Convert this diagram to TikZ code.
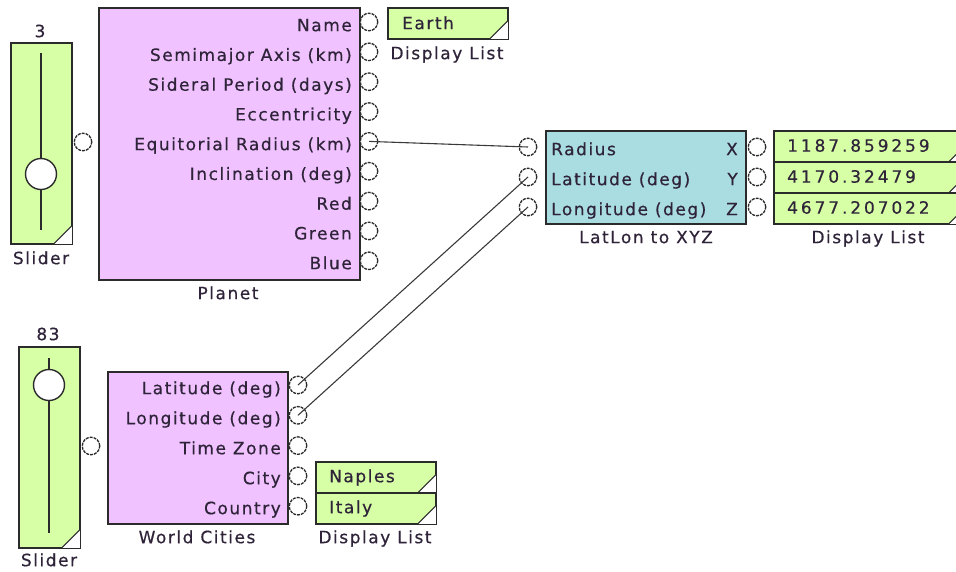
\documentclass[tikz,border=0pt]{standalone}
\usepackage{fontspec}
\setmainfont{DejaVu Sans}[LetterSpace=9,FakeBold=0.5]
\newfontfamily\numfont{DejaVu Sans}[LetterSpace=17,FakeBold=0.5]
\definecolor{lgreen}{HTML}{D7FFA6}
\definecolor{lpink}{HTML}{F0C2FF}
\definecolor{lcyan}{HTML}{A9DDE1}
\definecolor{boxline}{HTML}{2B2B2B}
\definecolor{txt}{HTML}{2E2338}
\definecolor{wirec}{HTML}{3A3A3A}
\tikzset{
  blk/.style={draw=boxline, line width=1.6pt, rectangle, inner sep=0pt, anchor=north west},
  greenbox/.style={blk, fill=lgreen},
  pinkbox/.style={blk, fill=lpink},
  cyanbox/.style={blk, fill=lcyan},
  port/.style={circle, draw=boxline, line width=1.3pt, dash pattern=on 3pt off 1pt, fill=white, minimum size=17.5pt, inner sep=0pt},
  knob/.style={circle, draw=boxline, line width=1.4pt, fill=white, minimum size=31pt, inner sep=0pt},
  track/.style={draw=boxline, line width=1.4pt},
  lbl/.style={font=\fontsize{17}{20}\selectfont, text=txt, inner sep=0pt, text height=12.4pt, text depth=0pt},
  numlbl/.style={lbl, font=\fontsize{17}{20}\selectfont\numfont},
  wire/.style={draw=wirec, line width=1.1pt},
}
\newcommand\cornertri[1]{%
  \fill[white] ([shift={(-0.8,-0.8)}]#1.south east) -- ++(-18,0) -- ++(18,-18) -- cycle;
  \draw[boxline, line width=1.2pt] ([shift={(-18.8,-0.8)}]#1.south east) -- ++(18,-18);
}
\begin{document}
\begin{tikzpicture}[x=1pt,y=-1pt]
\useasboundingbox (0,0) rectangle (956,571);
\clip (0,0) rectangle (956,571);

% ---------- Slider 1 ----------
\node[greenbox, minimum width=61pt, minimum height=201pt] (s1) at (10,42) {};
\cornertri{s1}
\draw[track] (41,53) -- (41,230);
\node[knob] (k1) at (41,174) {};
\node[lbl] (s1v) at (40,31) {3};
\node[lbl] (s1l) at (41,258) {Slider};
\node[port] (s1p) at (83,142) {};

% ---------- Planet ----------
\node[pinkbox, minimum width=261pt, minimum height=272pt] (planet) at (98,7) {};
\foreach \t [count=\i from 0] in {Name,Semimajor Axis (km),Sideral Period (days),Eccentricity,Equitorial Radius (km),Inclination (deg),Red,Green,Blue}{
  \pgfmathsetmacro\yy{25+29.75*\i}
  \pgfmathsetmacro\yp{22+29.85*\i}
  \node[lbl, anchor=east] (pl\i) at (352,\yy) {\t};
  \node[port] (pp\i) at (369,\yp) {};
}
\node[lbl] (planetl) at (228,293) {Planet};

% ---------- Earth display ----------
\node[greenbox, minimum width=120pt, minimum height=31pt] (d1) at (387,7) {};
\cornertri{d1}
\node[lbl, anchor=west] (d1t) at (402,23) {Earth};
\node[lbl] (d1l) at (447,53) {Display List};

% ---------- LatLon to XYZ ----------
\node[cyanbox, minimum width=200pt, minimum height=93pt] (ll) at (545,130) {};
\foreach \t/\o [count=\i from 0] in {Radius/X,Latitude (deg)/Y,Longitude (deg)/Z}{
  \pgfmathsetmacro\yy{149+30*\i}
  \pgfmathsetmacro\yp{147+30*\i}
  \node[lbl, anchor=west] (lla\i) at (551,\yy) {\t};
  \node[lbl, anchor=east] (llb\i) at (738,\yy) {\o};
  \node[port] (li\i) at (528,\yp) {};
  \node[port] (lo\i) at (757,\yp) {};
}
\node[lbl] (lll) at (646,237) {LatLon to XYZ};

% ---------- XYZ display list ----------
\foreach \v [count=\i from 0] in {1187.859259,4170.32479,4677.207022}{
  \pgfmathsetmacro\yy{130+31*\i}
  \node[greenbox, minimum width=193pt, minimum height=31pt] (dx\i) at (773,\yy) {};
  \cornertri{dx\i}
  \node[numlbl, anchor=west] (dxt\i) at (787,\yy+15.5) {\v};
}
\node[lbl] (dxl) at (868,237) {Display List};

% ---------- Slider 2 ----------
\node[greenbox, minimum width=61pt, minimum height=201pt] (s2) at (18,346) {};
\cornertri{s2}
\draw[track] (49,358) -- (49,533);
\node[knob] (k2) at (49,385) {};
\node[lbl] (s2v) at (48,334) {83};
\node[lbl] (s2l) at (49,560) {Slider};
\node[port] (s2p) at (91,446) {};

% ---------- World Cities ----------
\node[pinkbox, minimum width=180pt, minimum height=152pt] (wc) at (107,371) {};
\foreach \t [count=\i from 0] in {Latitude (deg),Longitude (deg),Time Zone,City,Country}{
  \pgfmathsetmacro\yy{388+30*\i}
  \pgfmathsetmacro\yp{385+30.3*\i}
  \node[lbl, anchor=east] (wl\i) at (281,\yy) {\t};
  \node[port] (wp\i) at (298,\yp) {};
}
\node[lbl] (wcl) at (197,537) {World Cities};

% ---------- Naples / Italy display ----------
\node[greenbox, minimum width=120pt, minimum height=31pt] (d2) at (315,461) {};
\cornertri{d2}
\node[lbl, anchor=west] (d2t) at (329,476) {Naples};
\node[greenbox, minimum width=120pt, minimum height=31pt] (d3) at (315,492) {};
\cornertri{d3}
\node[lbl, anchor=west] (d3t) at (329,507) {Italy};
\node[lbl] (d2l) at (375,537) {Display List};

% ---------- Wires ----------
\draw[wire] (pp4.center) -- (li0.center);
\draw[wire] (wp0.center) -- (li1.center);
\draw[wire] (wp1.center) -- (li2.center);
\end{tikzpicture}
\end{document}
